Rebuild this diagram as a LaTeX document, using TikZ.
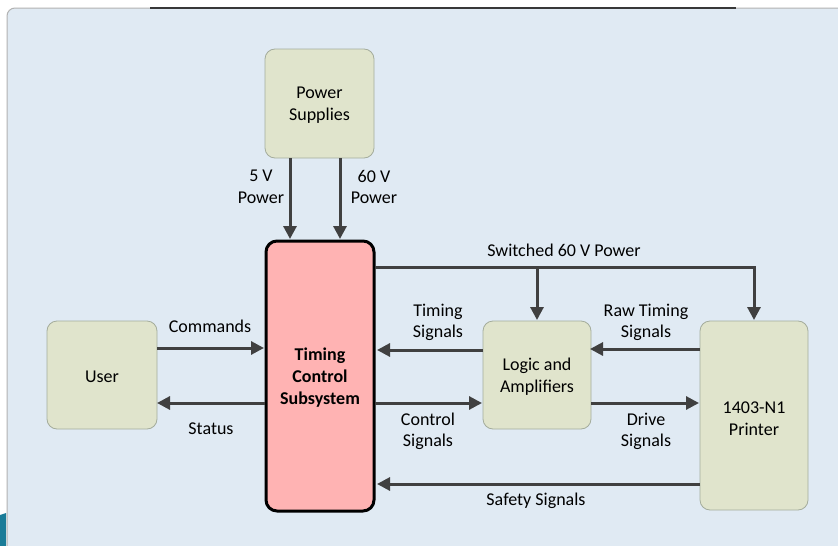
\documentclass[tikz,border=0pt]{standalone}
\usepackage{fontspec}
\setmainfont{Carlito}
\usetikzlibrary{arrows.meta}
\definecolor{panel}{HTML}{E0EAF3}
\definecolor{boxfill}{HTML}{E0E4CC}
\definecolor{boxline}{HTML}{A4AC9C}
\definecolor{arr}{HTML}{404040}
\definecolor{tcsfill}{HTML}{FFB3B3}
\definecolor{teal}{HTML}{1A7C98}
\tikzset{
  blk/.style={draw=boxline, fill=boxfill, line width=0.8pt, rounded corners=10pt},
  tcs/.style={draw=black, fill=tcsfill, line width=3pt, rounded corners=11pt},
  conn/.style={draw=arr, line width=3pt, -{Triangle[length=13pt,width=13pt]}},
  lbl/.style={align=center, inner sep=0pt, font=\fontsize{18}{21.5}\selectfont, text=black, yshift=-1.5pt},
  ttl/.style={align=center, inner sep=0pt, font=\fontsize{18}{22}\selectfont, text=black, yshift=-1.5pt},
}
\begin{document}
\begin{tikzpicture}[x=1pt,y=-1pt]
\useasboundingbox (0,0) rectangle (838,546);
\fill[white] (0,0) rectangle (838,546);
% panel
\draw[fill=panel, draw=gray!60, line width=1pt, rounded corners=8pt] (7,8) rectangle (860,570);
\draw[color=black!78, line width=2.2pt] (150,8) -- (736,8);
\fill[teal] (0,515) -- (6,513) -- (6,546) -- (0,546) -- cycle;
% blocks
\path[blk] (265,49) rectangle (374,158);
\node[ttl] (ps) at (319.5,103.5) {Power\\Supplies};
\coordinate (psA) at (290,158);
\coordinate (psB) at (340,158);
\path[tcs] (266,241) rectangle (374,511);
\node[ttl, font=\fontsize{18}{22}\selectfont\bfseries] (tcsl) at (320,376) {Timing\\Control\\Subsystem};
\coordinate (tcsA) at (290,239);
\coordinate (tcsB) at (340,239);
\path[blk] (47,321) rectangle (157,429);
\node[ttl] (user) at (102,375) {User};
\path[blk] (483,321) rectangle (591,429);
\node[ttl] (logic) at (537,375) {Logic and\\Amplifiers};
\path[blk] (700,321) rectangle (808,510);
\node[ttl] (prn) at (754,417) {1403-N1\\Printer};
% coordinates
\coordinate (tcsR1) at (375,267);
\coordinate (tcsR2) at (377,350);
\coordinate (tcsR3) at (375,403);
\coordinate (tcsR4) at (377,484);
\coordinate (tcsL1) at (264,348);
\coordinate (tcsL2) at (265,403);
\coordinate (userR1) at (157,348);
\coordinate (userR2) at (157,403);
\coordinate (logL1) at (483,350);
\coordinate (logL2) at (482,403);
\coordinate (logR1) at (590,349);
\coordinate (logR2) at (591,403);
\coordinate (logT) at (537,320);
\coordinate (prnL1) at (700,349);
\coordinate (prnL2) at (699,403);
\coordinate (prnL3) at (700,484);
\coordinate (prnT) at (754,320);
\coordinate (j1) at (537,267);
% connectors
\draw[conn] (psA) -- (tcsA);
\draw[conn] (psB) -- (tcsB);
\draw[conn] (tcsR1) -| (prnT);
\draw[conn] (j1) -- (logT);
\draw[conn] (logL1) -- (tcsR2);
\draw[conn] (tcsR3) -- (logL2);
\draw[conn] (prnL1) -- (logR1);
\draw[conn] (logR2) -- (prnL2);
\draw[conn] (prnL3) -- (tcsR4);
\draw[conn] (userR1) -- (tcsL1);
\draw[conn] (tcsL2) -- (userR2);
% labels
\node[lbl] (l5v) at (261,185.5) {5 V\\Power};
\node[lbl] (l60v) at (374,185.5) {60 V\\Power};
\node[lbl] (lsw) at (564,249) {Switched 60 V Power};
\node[lbl] (lts) at (438,321) {Timing\\Signals};
\node[lbl] (lraw) at (646,321) {Raw Timing\\Signals};
\node[lbl] (lcmd) at (210,325) {Commands};
\node[lbl] (lst) at (211,427) {Status};
\node[lbl] (lcs) at (428,430) {Control\\Signals};
\node[lbl] (lds) at (646,430) {Drive\\Signals};
\node[lbl] (lss) at (536,499) {Safety Signals};
\end{tikzpicture}
\end{document}
